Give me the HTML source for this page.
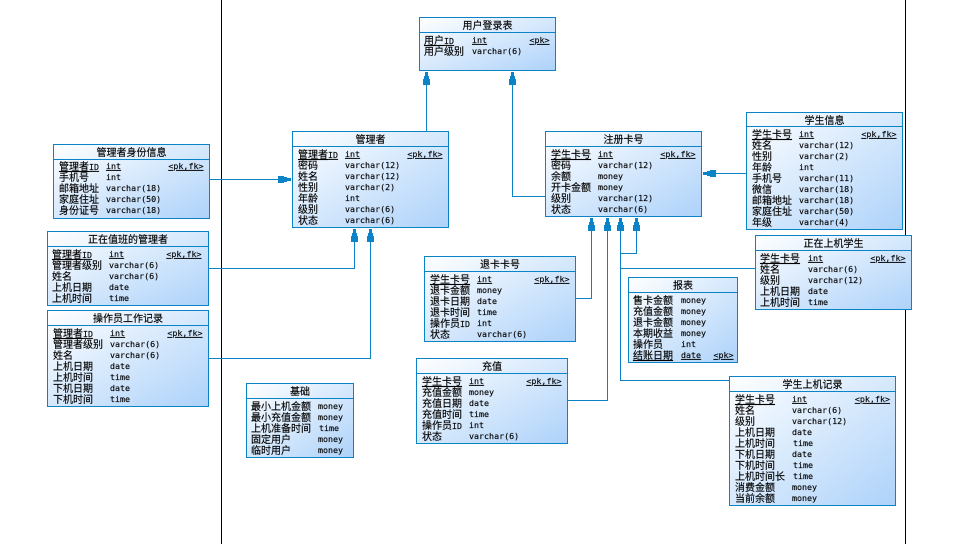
<!DOCTYPE html>
<html><head><meta charset="utf-8"><style>
html,body{margin:0;padding:0;background:#fff}
svg{display:block}
text{font-family:"Liberation Sans","Noto Sans CJK SC",sans-serif;font-size:10px;fill:#000;stroke:#000;stroke-width:.15px}
.t{text-anchor:middle}
.l{font-family:"DejaVu Sans Mono",monospace;font-size:8.33px}
text.l,text.k{transform:translateY(-1px)}
.k{font-family:"DejaVu Sans Mono",monospace;font-size:8.33px;text-anchor:end;text-decoration:underline}
.u{text-decoration:underline}
.b{fill:url(#g);stroke:#0a84c6;stroke-width:1}
.s{stroke:#0a84c6;stroke-width:1;fill:none}
.a{fill:#0a84c6;stroke:none}
</style></head><body>
<svg width="973" height="544" viewBox="0 0 973 544" xmlns="http://www.w3.org/2000/svg">
<defs><linearGradient id="g" x1="0" y1="0" x2="1" y2="1"><stop offset="0" stop-color="#fff"/><stop offset="1" stop-color="#add2fa"/></linearGradient>
<path id="ah" class="a" d="M-1.500 0h3v4h1v3h1v6h-7v-6h1v-3h1z"/></defs>
<path d="M221.500 0V544M905.500 0V544" stroke="#000" fill="none"/>
<path class="s" d="M426.500 131V72M512.500 72V196.500H545M746 173.500H704M209 179.500H291M208 268.500H354.500V229M208 358.500H370.500V229M575 298.500H591.500V218M567 400.500H607.500V218M729 380.500H620.500V218M755 268.500H620.500M636.500 218V253.500H620.500"/>
<use href="#ah" transform="translate(426.500 72)"/>
<use href="#ah" transform="translate(512.500 72)"/>
<use href="#ah" transform="translate(354.500 229)"/>
<use href="#ah" transform="translate(370.500 229)"/>
<use href="#ah" transform="translate(591.500 218)"/>
<use href="#ah" transform="translate(607.500 218)"/>
<use href="#ah" transform="translate(620.500 218)"/>
<use href="#ah" transform="translate(636.500 218)"/>
<use href="#ah" transform="translate(703 173.500) rotate(-90)"/>
<use href="#ah" transform="translate(291 179.500) rotate(90)"/>

<rect class="b" x="419.500" y="17.500" width="136" height="53"/><path class="s" d="M420 32.500H555"/>
<text class="t" x="487.500" y="29">用户登录表</text>
<text class="u" x="424" y="44">用户<tspan class="l">ID</tspan></text><text class="l u" x="472" y="44">int</text><text class="k" x="549.500" y="44">&lt;pk&gt;</text>
<text x="424" y="55">用户级别</text><text class="l" x="472" y="55">varchar(6)</text>

<rect class="b" x="53.500" y="144.500" width="156" height="74"/><path class="s" d="M54 159.500H209"/>
<text class="t" x="131.500" y="156">管理者身份信息</text>
<text class="u" x="59" y="170">管理者<tspan class="l">ID</tspan></text><text class="l u" x="106" y="170">int</text><text class="k" x="203.500" y="170">&lt;pk,fk&gt;</text>
<text x="59" y="181">手机号</text><text class="l" x="106" y="181">int</text>
<text x="59" y="192">邮箱地址</text><text class="l" x="106" y="192">varchar(18)</text>
<text x="59" y="203">家庭住址</text><text class="l" x="106" y="203">varchar(50)</text>
<text x="59" y="214">身份证号</text><text class="l" x="106" y="214">varchar(18)</text>

<rect class="b" x="47.500" y="231.500" width="161" height="74"/><path class="s" d="M48 246.500H208"/>
<text class="t" x="128" y="243">正在值班的管理者</text>
<text class="u" x="52" y="258">管理者<tspan class="l">ID</tspan></text><text class="l u" x="109" y="258">int</text><text class="k" x="201.500" y="258">&lt;pk,fk&gt;</text>
<text x="52" y="269">管理者级别</text><text class="l" x="109" y="269">varchar(6)</text>
<text x="52" y="280">姓名</text><text class="l" x="109" y="280">varchar(6)</text>
<text x="52" y="291">上机日期</text><text class="l" x="109" y="291">date</text>
<text x="52" y="302">上机时间</text><text class="l" x="109" y="302">time</text>

<rect class="b" x="47.500" y="310.500" width="161" height="96"/><path class="s" d="M48 325.500H208"/>
<text class="t" x="128" y="322">操作员工作记录</text>
<text class="u" x="53" y="337">管理者<tspan class="l">ID</tspan></text><text class="l u" x="110" y="337">int</text><text class="k" x="202.500" y="337">&lt;pk,fk&gt;</text>
<text x="53" y="348">管理者级别</text><text class="l" x="110" y="348">varchar(6)</text>
<text x="53" y="359">姓名</text><text class="l" x="110" y="359">varchar(6)</text>
<text x="53" y="370">上机日期</text><text class="l" x="110" y="370">date</text>
<text x="53" y="381">上机时间</text><text class="l" x="110" y="381">time</text>
<text x="53" y="392">下机日期</text><text class="l" x="110" y="392">date</text>
<text x="53" y="403">下机时间</text><text class="l" x="110" y="403">time</text>

<rect class="b" x="246.500" y="383.500" width="107" height="74"/><path class="s" d="M247 398.500H353"/>
<text class="t" x="300" y="395">基础</text>
<text x="251" y="410">最小上机金额</text><text class="l" x="318" y="410">money</text>
<text x="251" y="421">最小充值金额</text><text class="l" x="318" y="421">money</text>
<text x="251" y="432">上机准备时间</text><text class="l" x="319" y="432">time</text>
<text x="251" y="443">固定用户</text><text class="l" x="318" y="443">money</text>
<text x="251" y="454">临时用户</text><text class="l" x="318" y="454">money</text>

<rect class="b" x="292.500" y="131.500" width="156" height="96"/><path class="s" d="M293 146.500H448"/>
<text class="t" x="370.500" y="143">管理者</text>
<text class="u" x="298" y="158">管理者<tspan class="l">ID</tspan></text><text class="l u" x="345" y="158">int</text><text class="k" x="442.500" y="158">&lt;pk,fk&gt;</text>
<text x="298" y="169">密码</text><text class="l" x="345" y="169">varchar(12)</text>
<text x="298" y="180">姓名</text><text class="l" x="345" y="180">varchar(12)</text>
<text x="298" y="191">性别</text><text class="l" x="345" y="191">varchar(2)</text>
<text x="298" y="202">年龄</text><text class="l" x="345" y="202">int</text>
<text x="298" y="213">级别</text><text class="l" x="345" y="213">varchar(6)</text>
<text x="298" y="224">状态</text><text class="l" x="345" y="224">varchar(6)</text>

<rect class="b" x="545.500" y="131.500" width="156" height="85"/><path class="s" d="M546 146.500H701"/>
<text class="t" x="623.500" y="143">注册卡号</text>
<text class="u" x="551" y="158">学生卡号</text><text class="l u" x="598" y="158">int</text><text class="k" x="695.500" y="158">&lt;pk,fk&gt;</text>
<text x="551" y="169">密码</text><text class="l" x="598" y="169">varchar(12)</text>
<text x="551" y="180">余额</text><text class="l" x="598" y="180">money</text>
<text x="551" y="191">开卡金额</text><text class="l" x="598" y="191">money</text>
<text x="551" y="202">级别</text><text class="l" x="598" y="202">varchar(12)</text>
<text x="551" y="213">状态</text><text class="l" x="598" y="213">varchar(6)</text>

<rect class="b" x="746.500" y="112.500" width="156" height="117"/><path class="s" d="M747 126.500H902"/>
<text class="t" x="824.500" y="124">学生信息</text>
<text class="u" x="752" y="138">学生卡号</text><text class="l u" x="799" y="138">int</text><text class="k" x="896.500" y="138">&lt;pk,fk&gt;</text>
<text x="752" y="149">姓名</text><text class="l" x="799" y="149">varchar(12)</text>
<text x="752" y="160">性别</text><text class="l" x="799" y="160">varchar(2)</text>
<text x="752" y="171">年龄</text><text class="l" x="799" y="171">int</text>
<text x="752" y="182">手机号</text><text class="l" x="799" y="182">varchar(11)</text>
<text x="752" y="193">微信</text><text class="l" x="799" y="193">varchar(18)</text>
<text x="752" y="204">邮箱地址</text><text class="l" x="799" y="204">varchar(18)</text>
<text x="752" y="215">家庭住址</text><text class="l" x="799" y="215">varchar(50)</text>
<text x="752" y="226">年级</text><text class="l" x="799" y="226">varchar(4)</text>

<rect class="b" x="755.500" y="235.500" width="156" height="74"/><path class="s" d="M756 250.500H911"/>
<text class="t" x="833.500" y="247">正在上机学生</text>
<text class="u" x="760" y="262">学生卡号</text><text class="l u" x="808" y="262">int</text><text class="k" x="905.500" y="262">&lt;pk,fk&gt;</text>
<text x="760" y="273">姓名</text><text class="l" x="808" y="273">varchar(6)</text>
<text x="760" y="284">级别</text><text class="l" x="808" y="284">varchar(12)</text>
<text x="760" y="295">上机日期</text><text class="l" x="808" y="295">date</text>
<text x="760" y="306">上机时间</text><text class="l" x="808" y="306">time</text>

<rect class="b" x="424.500" y="256.500" width="151" height="85"/><path class="s" d="M425 271.500H575"/>
<text class="t" x="500" y="268">退卡卡号</text>
<text class="u" x="430" y="283">学生卡号</text><text class="l u" x="477" y="283">int</text><text class="k" x="569.500" y="283">&lt;pk,fk&gt;</text>
<text x="430" y="294">退卡金额</text><text class="l" x="477" y="294">money</text>
<text x="430" y="305">退卡日期</text><text class="l" x="477" y="305">date</text>
<text x="430" y="316">退卡时间</text><text class="l" x="477" y="316">time</text>
<text x="430" y="327">操作员<tspan class="l">ID</tspan></text><text class="l" x="477" y="327">int</text>
<text x="430" y="338">状态</text><text class="l" x="477" y="338">varchar(6)</text>

<rect class="b" x="416.500" y="358.500" width="151" height="85"/><path class="s" d="M417 373.500H567"/>
<text class="t" x="492" y="370">充值</text>
<text class="u" x="422" y="385">学生卡号</text><text class="l u" x="469" y="385">int</text><text class="k" x="561.500" y="385">&lt;pk,fk&gt;</text>
<text x="422" y="396">充值金额</text><text class="l" x="469" y="396">money</text>
<text x="422" y="407">充值日期</text><text class="l" x="469" y="407">date</text>
<text x="422" y="418">充值时间</text><text class="l" x="469" y="418">time</text>
<text x="422" y="429">操作员<tspan class="l">ID</tspan></text><text class="l" x="469" y="429">int</text>
<text x="422" y="440">状态</text><text class="l" x="469" y="440">varchar(6)</text>

<rect class="b" x="628.500" y="277.500" width="109" height="85"/><path class="s" d="M629 292.500H737"/>
<text class="t" x="683" y="289">报表</text>
<text x="633" y="304">售卡金额</text><text class="l" x="681" y="304">money</text>
<text x="633" y="315">充值金额</text><text class="l" x="681" y="315">money</text>
<text x="633" y="326">退卡金额</text><text class="l" x="681" y="326">money</text>
<text x="633" y="337">本期收益</text><text class="l" x="681" y="337">money</text>
<text x="633" y="348">操作员</text><text class="l" x="681" y="348">int</text>
<text class="u" x="633" y="359">结账日期</text><text class="l u" x="681" y="359">date</text><text class="k" x="733.500" y="359">&lt;pk&gt;</text>

<rect class="b" x="729.500" y="376.500" width="166" height="129"/><path class="s" d="M730 391.500H895"/>
<text class="t" x="812.500" y="388">学生上机记录</text>
<text class="u" x="735" y="403">学生卡号</text><text class="l u" x="792" y="403">int</text><text class="k" x="890" y="403">&lt;pk,fk&gt;</text>
<text x="735" y="414">姓名</text><text class="l" x="792" y="414">varchar(6)</text>
<text x="735" y="425">级别</text><text class="l" x="792" y="425">varchar(12)</text>
<text x="735" y="436">上机日期</text><text class="l" x="792" y="436">date</text>
<text x="735" y="447">上机时间</text><text class="l" x="793" y="447">time</text>
<text x="735" y="458">下机日期</text><text class="l" x="792" y="458">date</text>
<text x="735" y="469">下机时间</text><text class="l" x="793" y="469">time</text>
<text x="735" y="480">上机时间长</text><text class="l" x="793" y="480">time</text>
<text x="735" y="491">消费金额</text><text class="l" x="792" y="491">money</text>
<text x="735" y="502">当前余额</text><text class="l" x="792" y="502">money</text>
</svg>
</body></html>
